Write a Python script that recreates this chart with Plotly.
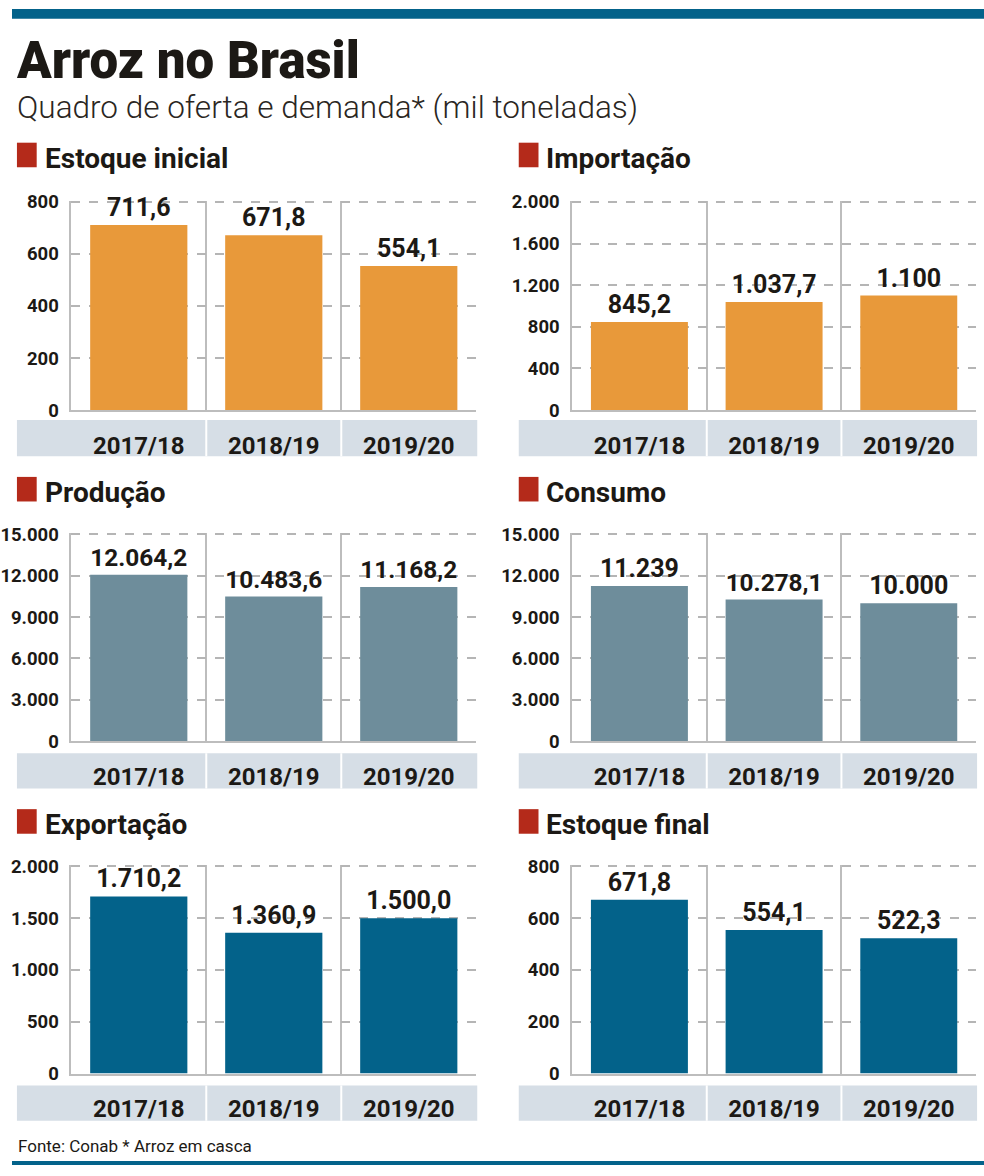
import plotly.graph_objects as go

# dados (mil toneladas)
categories = ["2017/18", "2018/19", "2019/20"]

estoque_inicial = [711.6, 671.8, 554.1]
importacao = [845.2, 1037.7, 1100]
producao = [12064.2, 10483.6, 11168.2]
consumo = [11239, 10278.1, 10000]
exportacao = [1710.2, 1360.9, 1500.0]
estoque_final = [671.8, 554.1, 522.3]

estoque_inicial_txt = ["711,6", "671,8", "554,1"]
importacao_txt = ["845,2", "1.037,7", "1.100"]
producao_txt = ["12.064,2", "10.483,6", "11.168,2"]
consumo_txt = ["11.239", "10.278,1", "10.000"]
exportacao_txt = ["1.710,2", "1.360,9", "1.500,0"]
estoque_final_txt = ["671,8", "554,1", "522,3"]

W, H = 984, 1176
ORANGE = "#E8993A"
GREYBLUE = "#6E8D9B"
BLUE = "#03628A"
RED = "#B42A1A"
BAND = "#D6DEE6"
GRID = "#BDBDBD"
INK = "#1C1915"

panels = [
    ("Estoque inicial", estoque_inicial, estoque_inicial_txt, ORANGE, 800, 200),
    ("Importação", importacao, importacao_txt, ORANGE, 2000, 400),
    ("Produção", producao, producao_txt, GREYBLUE, 15000, 3000),
    ("Consumo", consumo, consumo_txt, GREYBLUE, 15000, 3000),
    ("Exportação", exportacao, exportacao_txt, BLUE, 2000, 500),
    ("Estoque final", estoque_final, estoque_final_txt, BLUE, 800, 200),
]

# geometria em pixels: (plot x0, plot x1), (topo, base), faixa e titulo
cols = [(60, 470), (567, 976)]
band_x = [(5, 471), (513, 977)]
rows = [(195, 408), (533, 745), (871, 1083)]
band_y = [(418, 455), (757, 793), (1095, 1131)]
title_y = [149, 489, 827]


def px(x):
    return x / W


def py(y):
    return 1 - y / H


fig = go.Figure()
shapes = []
annotations = []
layout = {}

for i, (name, vals, txt, color, ymax, dtick) in enumerate(panels):
    r, c = divmod(i, 2)
    n = i + 1
    xa = "x" if n == 1 else f"x{n}"
    ya = "y" if n == 1 else f"y{n}"

    fig.add_trace(go.Bar(
        x=categories, y=vals, text=txt, textposition="outside",
        textfont=dict(family="Roboto", size=25, color=INK, weight="bold"),
        marker=dict(color=color, line=dict(width=0)),
        width=0.72, cliponaxis=False, xaxis=xa, yaxis=ya, showlegend=False,
    ))

    x0, x1 = cols[c]
    top, bot = rows[r]
    layout[f"xaxis{n}"] = dict(
        domain=[px(x0), px(x1)], anchor=ya, type="category",
        range=[-0.5, 2.5], tickson="boundaries", ticks="",
        showgrid=True, gridcolor=GRID, gridwidth=1.5,
        showline=True, linecolor=GRID, linewidth=1.5,
        tickfont=dict(family="Roboto", size=24, color=INK, weight="bold"),
        ticklabelstandoff=13, fixedrange=True,
    )
    layout[f"yaxis{n}"] = dict(
        domain=[py(bot), py(top)], anchor=xa, range=[0, ymax * 1.006],
        tickvals=list(range(0, ymax + 1, dtick)), tickformat=",.0f",
        showgrid=True, gridcolor="#B5B5B5", gridwidth=2, griddash="dash",
        zeroline=False, showline=True, linecolor=GRID, linewidth=1.5,
        ticks="", ticklabelstandoff=7,
        tickfont=dict(family="Roboto", size=18.5, color=INK, weight="bold"),
        fixedrange=True,
    )

    # faixa das categorias
    bx0, bx1 = band_x[c]
    by0, by1 = band_y[r]
    shapes.append(dict(type="rect", xref="paper", yref="paper", layer="below",
                       x0=px(bx0), x1=px(bx1), y0=py(by1), y1=py(by0),
                       fillcolor=BAND, line=dict(width=0)))
    for k in (0.5, 1.5):
        shapes.append(dict(type="line", xref=xa, yref="paper", layer="below",
                           x0=k, x1=k, y0=py(by1), y1=py(by0),
                           line=dict(color="white", width=2)))

    # titulo do painel
    ty = title_y[r]
    sx = bx0
    shapes.append(dict(type="rect", xref="paper", yref="paper",
                       x0=px(sx), x1=px(sx + 20), y0=py(ty + 12), y1=py(ty - 13),
                       fillcolor=RED, line=dict(width=0)))
    annotations.append(dict(text=name, xref="paper", yref="paper",
                            x=px(sx + 26), y=py(ty + 3), xanchor="left", yanchor="middle",
                            showarrow=False,
                            font=dict(family="Roboto", size=28, color=INK, weight="bold")))

# faixas azuis topo e base
shapes.append(dict(type="rect", xref="paper", yref="paper", x0=0, x1=1,
                   y0=py(10), y1=1, fillcolor=BLUE, line=dict(width=0)))
shapes.append(dict(type="rect", xref="paper", yref="paper", x0=0, x1=1,
                   y0=0, y1=py(1172), fillcolor=BLUE, line=dict(width=0)))

annotations.append(dict(text="Arroz no Brasil", xref="paper", yref="paper",
                        x=px(2), y=py(52), xanchor="left", yanchor="middle", showarrow=False,
                        font=dict(family="Roboto", size=51, color=INK, weight=900)))
annotations.append(dict(text="Quadro de oferta e demanda* (mil toneladas)", xref="paper",
                        yref="paper", x=px(3), y=py(100), xanchor="left", yanchor="middle",
                        showarrow=False,
                        font=dict(family="Roboto", size=31.5, color="#2a2622", weight=300)))
annotations.append(dict(text="Fonte: Conab * Arroz em casca", xref="paper", yref="paper",
                        x=px(4), y=py(1157), xanchor="left", yanchor="middle", showarrow=False,
                        font=dict(family="Roboto", size=17, color=INK)))

fig.update_layout(
    width=W, height=H, margin=dict(l=0, r=0, t=0, b=0),
    paper_bgcolor="white", plot_bgcolor="white",
    separators=",.", bargap=0.28, showlegend=False,
    shapes=shapes, annotations=annotations, **layout,
)

fig.write_html("out.html", config={"displayModeBar": False},
               post_script="document.body.style.margin='0';")
